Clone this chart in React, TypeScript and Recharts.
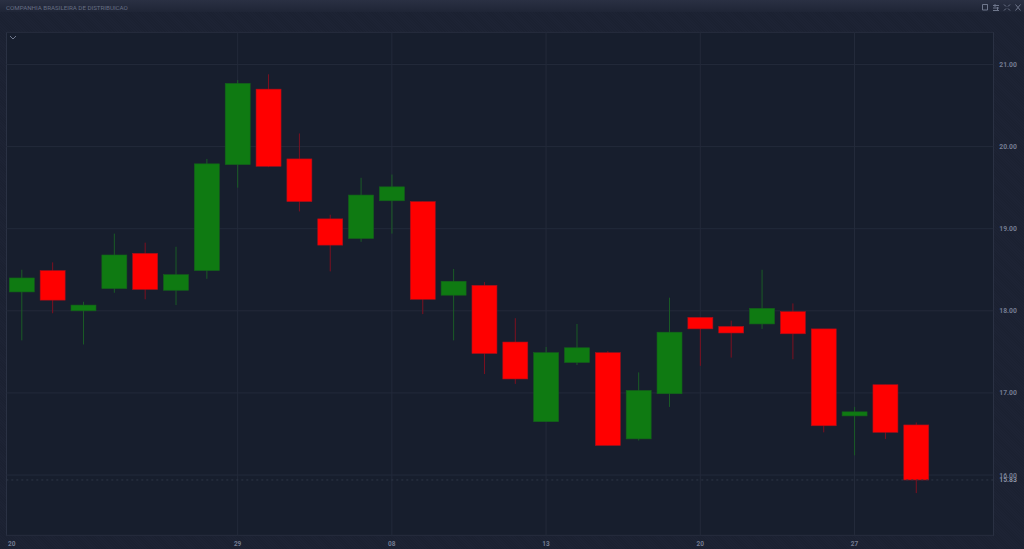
import { BarChart, Bar, XAxis, YAxis, CartesianGrid, ReferenceLine } from 'recharts';

const title = 'COMPANHIA BRASILEIRA DE DISTRIBUICAO';

// one entry per trading day
const opens = [18.23, 18.49, 18.0, 18.27, 18.7, 18.25, 18.49, 19.78, 20.7, 19.85, 19.12, 18.88, 19.34, 19.33, 18.19, 18.31, 17.62, 16.65, 17.37, 17.49, 16.44, 16.99, 17.92, 17.81, 17.84, 17.99, 17.78, 16.72, 17.1, 16.61];
const highs = [18.5, 18.59, 18.11, 18.94, 18.83, 18.78, 19.85, 20.81, 20.88, 20.16, 19.17, 19.62, 19.66, 19.33, 18.51, 18.35, 17.91, 17.56, 17.84, 17.51, 17.25, 18.16, 17.92, 17.88, 18.5, 18.09, 17.78, 16.83, 17.1, 16.64];
const lows = [17.64, 17.97, 17.59, 18.22, 18.14, 18.07, 18.39, 19.5, 19.75, 19.21, 18.48, 18.84, 18.94, 17.96, 17.64, 17.23, 17.11, 16.65, 17.34, 16.36, 16.42, 16.83, 17.33, 17.43, 17.78, 17.41, 16.52, 16.24, 16.44, 15.78];
const closes = [18.4, 18.13, 18.07, 18.68, 18.26, 18.44, 19.79, 20.77, 19.76, 19.33, 18.8, 19.41, 19.51, 18.14, 18.36, 17.48, 17.17, 17.49, 17.55, 16.36, 17.03, 17.74, 17.78, 17.73, 18.03, 17.72, 16.6, 16.77, 16.52, 15.94];

const priceTicks = [16, 17, 18, 19, 20, 21];
const dayTicks = [-0.32, 7, 12, 17, 22, 27];
const dayLabels = ['20', '29', '08', '13', '20', '27'];
const gridDays = [7, 12, 17, 22, 27];
const dayDomain = [-0.5, 31.5];
const lastPrice = 15.94;
const lastPriceLabel = '15.83';

const candles = opens.map((open, i) => ({
  day: i,
  open,
  high: highs[i],
  low: lows[i],
  close: closes[i],
  range: [lows[i], highs[i]],
}));

const UP = '#0f7a12';
const DOWN = '#ff0000';
const UP_WICK = '#1a5c26';
const DOWN_WICK = '#7d1020';
const GRID = '#232a3a';
const TEXT = '#747c92';
const PLOT = '#171e2d';

// y and height of the bar span low..high, the body is placed inside that span
function Candle(props: any) {
  const { x, y, width, height, payload } = props;
  const { open, close, high, low } = payload;
  const perUnit = height / (high - low);
  const up = close >= open;
  const top = y + (high - Math.max(open, close)) * perUnit;
  const bodyH = Math.max(Math.abs(close - open) * perUnit, 1);
  const cx = x + width / 2;
  return (
    <g>
      <line x1={cx} x2={cx} y1={y} y2={y + height} stroke={up ? UP_WICK : DOWN_WICK} strokeWidth={1} />
      <rect
        x={x}
        y={top}
        width={width}
        height={bodyH}
        fill={up ? UP : DOWN}
        stroke={up ? '#14601c' : '#a50f1c'}
        strokeWidth={0.6}
      />
    </g>
  );
}

function PriceTick(props: any) {
  const { x, y, payload } = props;
  return (
    <text x={x} y={y + 2.5} fontSize={6.8} fontWeight={700} fill={TEXT} fontFamily="Roboto, sans-serif">
      {payload.value.toFixed(2)}
    </text>
  );
}

function gridX({ offset }: any) {
  const span = dayDomain[1] - dayDomain[0];
  return gridDays.map((d) => offset.left + (offset.width * (d - dayDomain[0])) / span);
}

export default function App() {
  return (
    <div
      style={{
        position: 'absolute',
        left: 0,
        top: 0,
        width: 1024,
        height: 549,
        overflow: 'hidden',
        background: 'repeating-linear-gradient(45deg, #1b2131 0 1px, #1d2334 1px 2px)',
        fontFamily: 'Roboto, sans-serif',
      }}
    >
      <div style={{ position: 'absolute', left: 0, top: 0, width: 1024, height: 12, background: 'linear-gradient(#2a3043, #1f2536)' }} />
      <div style={{ position: 'absolute', left: 6, top: 3.5, fontSize: 6.2, lineHeight: '8px', color: '#666e84', whiteSpace: 'nowrap' }}>
        {title}
      </div>
      <svg style={{ position: 'absolute', left: 980, top: 2 }} width={42} height={11} fill="none" stroke="#6f778c" strokeWidth={1}>
        <path d="M2.5 2.5h5v5.5h-5z M7.5 2.5v5.5" />
        <path d="M13 3.5h6 M13 6h6 M13 8.5h6 M15 2v3 M17.5 5v3" />
        <path d="M24 2.5l2 2 M30 2.5l-2 2 M24 8.5l2-2 M30 8.5l-2-2" />
        <path d="M35.5 2.5l5 6 M40.5 2.5l-5 6" />
      </svg>
      <div
        style={{
          position: 'absolute',
          left: 6,
          top: 32,
          width: 988,
          height: 504,
          boxSizing: 'border-box',
          background: PLOT,
          border: '1px solid #2a3143',
        }}
      />
      <svg style={{ position: 'absolute', left: 9, top: 35 }} width={8} height={6} fill="none" stroke="#6f778c" strokeWidth={1}>
        <path d="M1 1l3 3 3-3" />
      </svg>
      <div style={{ position: 'absolute', left: 0, top: 0 }}>
        <BarChart
          width={1024}
          height={549}
          data={candles}
          margin={{ top: 32.3, right: 0, bottom: 0, left: 6.3 }}
          barSize={25}
        >
          <CartesianGrid stroke={GRID} strokeWidth={1} verticalCoordinatesGenerator={gridX} />
          <XAxis
            dataKey="day"
            type="number"
            domain={dayDomain}
            allowDataOverflow
            ticks={dayTicks}
            interval={0}
            height={13.7}
            axisLine={false}
            tickLine={false}
            tickMargin={0}
            tick={{ fontSize: 6.5, fill: TEXT, fontWeight: 700 }}
            tickFormatter={(v: number) => dayLabels[dayTicks.indexOf(v)]}
          />
          <YAxis
            orientation="right"
            type="number"
            domain={[15.266, 21.392]}
            allowDataOverflow
            ticks={priceTicks}
            interval={0}
            width={30.7}
            axisLine={false}
            tickLine={false}
            tick={<PriceTick />}
            tickMargin={0}
          />
          <ReferenceLine
            y={lastPrice}
            stroke="#2f3748"
            strokeDasharray="2 3"
            label={(p: any) => (
              <text
                x={p.viewBox.x + p.viewBox.width + 6}
                y={p.viewBox.y + 2.5}
                fontSize={6.8}
                fontWeight={700}
                fill="#8d94a6"
                fontFamily="Roboto, sans-serif"
              >
                {lastPriceLabel}
              </text>
            )}
          />
          <Bar dataKey="range" isAnimationActive={false} shape={<Candle />} />
        </BarChart>
      </div>
    </div>
  );
}
